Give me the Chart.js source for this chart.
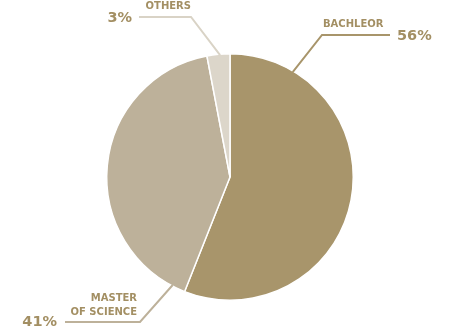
<!DOCTYPE html>
<html>
<head>
<meta charset="utf-8">
<script src="https://cdn.jsdelivr.net/npm/chart.js@4"></script>
<style>
  html, body { margin: 0; padding: 0; background: #fff; }
  #wrap { width: 466px; height: 331px; }
</style>
</head>
<body>
<div id="wrap"><canvas id="degreeChart"></canvas></div>
<script>
// data
const categories = ['BACHLEOR', 'MASTER OF SCIENCE', 'OTHERS'];
const shares = [56, 41, 3];
const sliceColors = ['#A8956B', '#BDB19A', '#DCD6CA'];

// where each label sits (anchor = fraction along the slice arc)
const labelLayout = [
  { anchor: 0.153, elbow: [322, 35], end: [390, 35], line: '#A8956B',
    name: ['BACHLEOR'], nameX: 323, nameY: [24], nameAlign: 'left',
    pctX: 397, pctY: 36, pctAlign: 'left' },
  { anchor: 0.043, elbow: [140, 322], end: [65, 322], line: '#BDB19A',
    name: ['MASTER', 'OF SCIENCE'], nameX: 137, nameY: [298, 312], nameAlign: 'right',
    pctX: 57, pctY: 322, pctAlign: 'right' },
  { anchor: 0.57, elbow: [191, 17], end: [139, 17], line: '#D9D3C6',
    name: ['OTHERS'], nameX: 191, nameY: [6], nameAlign: 'right',
    pctX: 132, pctY: 18, pctAlign: 'right' }
];

const leaderLabels = {
  id: 'leaderLabels',
  afterDraw(chart) {
    const ctx = chart.ctx;
    const arcs = chart.getDatasetMeta(0).data;
    ctx.save();
    arcs.forEach((arc, i) => {
      const cfg = labelLayout[i];
      const p = arc.getProps(['x', 'y', 'startAngle', 'endAngle', 'outerRadius'], true);
      const a = p.startAngle + (p.endAngle - p.startAngle) * cfg.anchor;
      const sx = p.x + Math.cos(a) * (p.outerRadius - 1);
      const sy = p.y + Math.sin(a) * (p.outerRadius - 1);

      ctx.strokeStyle = cfg.line;
      ctx.lineWidth = 2;
      ctx.beginPath();
      ctx.moveTo(sx, sy);
      ctx.lineTo(cfg.elbow[0], cfg.elbow[1]);
      ctx.lineTo(cfg.end[0], cfg.end[1]);
      ctx.stroke();

      ctx.fillStyle = '#A38F63';
      ctx.textBaseline = 'middle';
      ctx.font = 'bold 10px "DejaVu Sans"';
      ctx.textAlign = cfg.nameAlign;
      cfg.name.forEach((t, k) => ctx.fillText(t, cfg.nameX, cfg.nameY[k]));

      ctx.font = 'bold 14.5px "DejaVu Sans"';
      ctx.textAlign = cfg.pctAlign;
      ctx.fillText(shares[i] + '%', cfg.pctX, cfg.pctY);
    });
    ctx.restore();
  }
};

new Chart(document.getElementById('degreeChart'), {
  type: 'pie',
  data: {
    labels: categories,
    datasets: [{
      data: shares,
      backgroundColor: sliceColors,
      borderColor: '#ffffff',
      borderWidth: 1.5
    }]
  },
  options: {
    responsive: true,
    maintainAspectRatio: false,
    animation: false,
    layout: { padding: { top: 53, bottom: 30, left: 0, right: 6 } },
    plugins: {
      legend: { display: false },
      tooltip: { enabled: false }
    }
  },
  plugins: [leaderLabels]
});
</script>
</body>
</html>
